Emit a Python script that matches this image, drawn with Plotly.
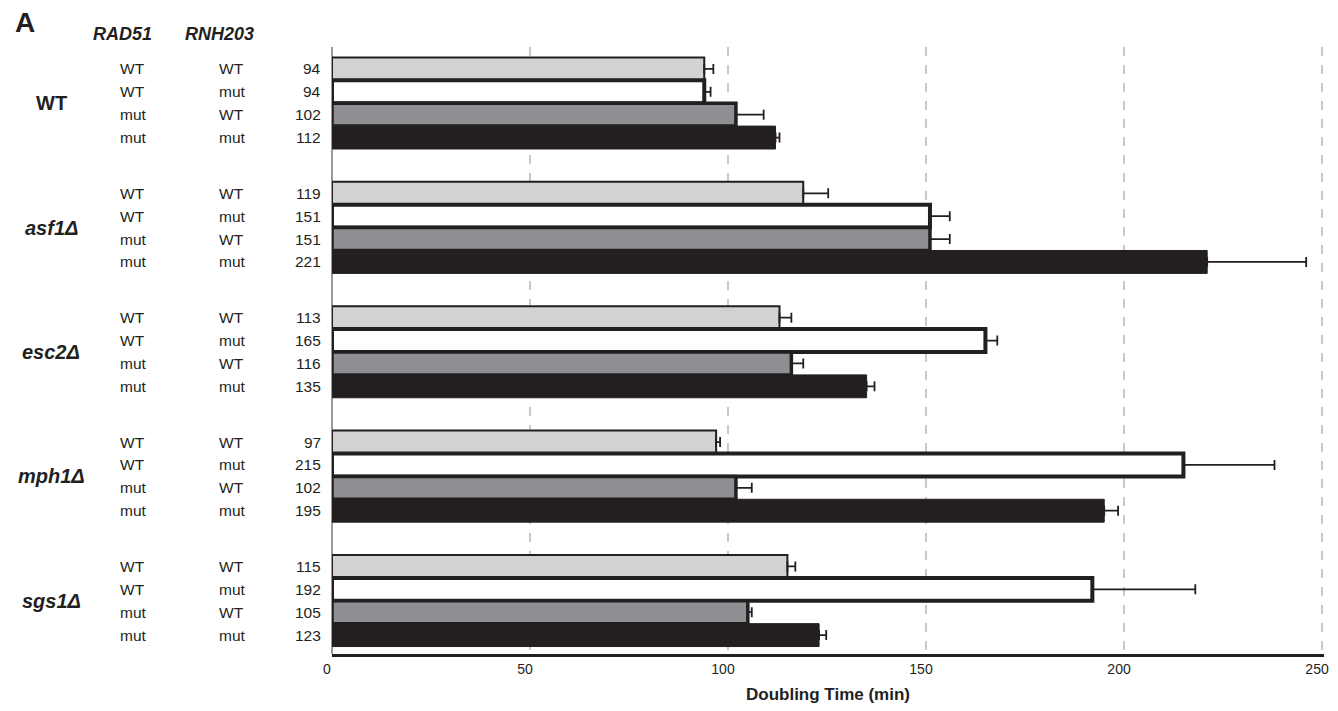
import plotly.graph_objects as go

# ---------------- data ----------------
groups = ["WT", "asf1Δ", "esc2Δ", "mph1Δ", "sgs1Δ"]
group_italic = [False, True, True, True, True]
rad51 = ["WT", "WT", "mut", "mut"]
rnh203 = ["WT", "mut", "WT", "mut"]

# doubling time (min) per group, order: WT/WT, WT/mut, mut/WT, mut/mut
light_vals = [94, 119, 113, 97, 115]     # RAD51 WT, RNH203 WT
white_vals = [94, 151, 165, 215, 192]    # RAD51 WT, RNH203 mut
gray_vals = [102, 151, 116, 102, 105]    # RAD51 mut, RNH203 WT
black_vals = [112, 221, 135, 195, 123]   # RAD51 mut, RNH203 mut

light_err = [2.3, 6.3, 3, 1, 2]
white_err = [1.6, 5, 3, 23, 26]
gray_err = [7, 5, 3, 4, 1]
black_err = [1, 25, 2, 3.5, 1.8]

x_ticks = [0, 50, 100, 150, 200, 250]

# ---------------- layout helpers ----------------
W, H = 1338, 711
X0_PX = 331.5            # pixel of x = 0
X250_PX = 1327.0         # pixel of x = 250
X_MAX = 250.5            # axis range end
SCALE = (X250_PX - X0_PX) / 250.0
PL = X0_PX
PR = X0_PX + X_MAX * SCALE
PT, PB = 47.0, 657.0     # plot area top/bottom (px)
ROW = 23.0               # px per row
GROUP_PITCH = 125.0 / ROW
Y_TOP = -(69 - PT) / ROW
LAST = 4 * GROUP_PITCH + 3
Y_BOT = LAST + (PB - 638) / ROW

def px_x(px):
    return (px - PL) / (PR - PL)

def px_y(py):
    return (PB - py) / (PB - PT)

def ypos(i):
    return [g * GROUP_PITCH + i for g in range(len(groups))]

INK = "#231f20"
FONT = "Liberation Sans, Arial, Helvetica, sans-serif"

series = [
    (light_vals, light_err, "#d1d2d4", 2.0),
    (white_vals, white_err, "#ffffff", 4.0),
    (gray_vals, gray_err, "#8e8f92", 3.5),
    (black_vals, black_err, INK, 1.0),
]

fig = go.Figure()
for i, (vals, errs, col, lw) in enumerate(series):
    fig.add_trace(go.Bar(
        x=vals, y=ypos(i), orientation="h", width=1.0,
        marker=dict(color=col, line=dict(color=INK, width=lw)),
        error_x=dict(type="data", symmetric=False, array=errs,
                     arrayminus=[0] * len(errs), color=INK,
                     thickness=1.8, width=5),
        hoverinfo="skip", showlegend=False,
    ))

ann = []
# panel letter and column headers
ann.append(dict(text="<b>A</b>", x=px_x(11), y=px_y(22), xanchor="left",
                yanchor="middle", font=dict(size=28, color=INK)))
ann.append(dict(text="<b><i>RAD51</i></b>", x=px_x(121), y=px_y(34),
                xanchor="center", yanchor="middle", font=dict(size=18, color=INK)))
ann.append(dict(text="<b><i>RNH203</i></b>", x=px_x(218), y=px_y(34),
                xanchor="center", yanchor="middle", font=dict(size=18, color=INK)))

all_vals = [light_vals, white_vals, gray_vals, black_vals]
for g, name in enumerate(groups):
    label = f"<b><i>{name}</i></b>" if group_italic[g] else f"<b>{name}</b>"
    ann.append(dict(text=label, x=px_x(49), xref="paper",
                    y=g * GROUP_PITCH + 1.5, yref="y",
                    xanchor="center", yanchor="middle",
                    font=dict(size=20, color=INK)))
    for i in range(4):
        yy = g * GROUP_PITCH + i
        ann.append(dict(text=rad51[i], x=px_x(116), xref="paper", y=yy, yref="y",
                        xanchor="left", yanchor="middle",
                        font=dict(size=15.5, color=INK)))
        ann.append(dict(text=rnh203[i], x=px_x(216), xref="paper", y=yy, yref="y",
                        xanchor="left", yanchor="middle",
                        font=dict(size=15.5, color=INK)))
        ann.append(dict(text=str(all_vals[i][g]), x=px_x(322), xref="paper",
                        y=yy, yref="y", xanchor="right", yanchor="middle",
                        font=dict(size=15.5, color=INK)))

for a in ann:
    a.setdefault("xref", "paper")
    a.setdefault("yref", "paper")
    a["showarrow"] = False

fig.update_layout(
    width=W, height=H,
    margin=dict(l=PL, r=W - PR, t=PT, b=H - PB, pad=0),
    paper_bgcolor="white", plot_bgcolor="white",
    barmode="overlay",
    font=dict(family=FONT, color=INK),
    annotations=ann,
    xaxis=dict(
        range=[0, X_MAX], tickvals=x_ticks, ticktext=[str(t) for t in x_ticks],
        showgrid=True, gridcolor="#c9c9c9", gridwidth=1.5, griddash="dash",
        zeroline=True, zerolinecolor="#9a9a9a", zerolinewidth=2,
        showline=True, linecolor=INK, linewidth=3, ticks="",
        tickfont=dict(size=14, color=INK), ticklabelshift=-5,
        title=dict(text="<b>Doubling Time (min)</b>", font=dict(size=17, color=INK),
                   standoff=13),
        fixedrange=True,
    ),
    yaxis=dict(
        range=[Y_BOT, Y_TOP], showticklabels=False, showgrid=False,
        zeroline=False, showline=False, ticks="", fixedrange=True,
    ),
)

fig.write_html("out.html")
